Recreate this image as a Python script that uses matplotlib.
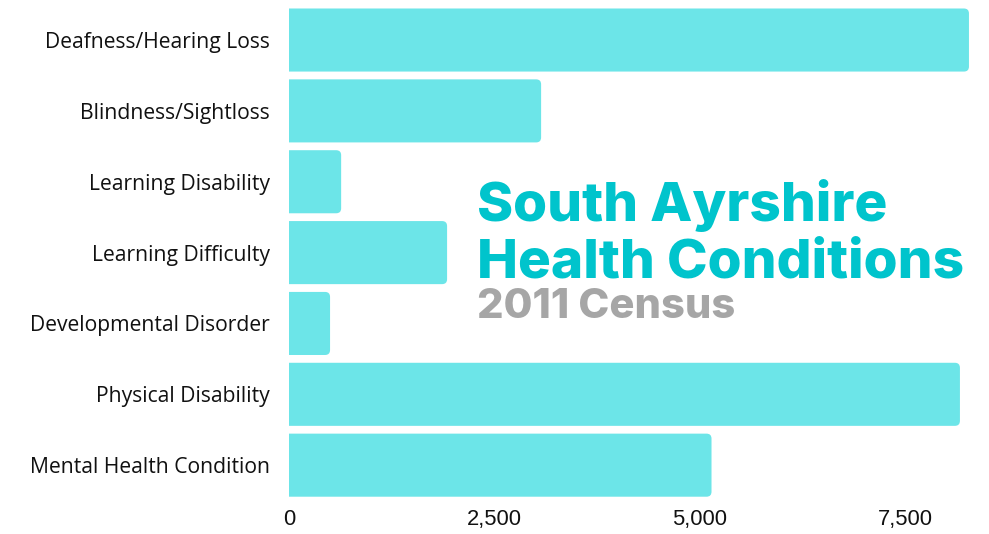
import matplotlib
matplotlib.use("Agg")
import matplotlib.pyplot as plt
from matplotlib.patches import FancyBboxPatch

categories = ["Deafness/Hearing Loss", "Blindness/Sightloss", "Learning Disability",
              "Learning Difficulty", "Developmental Disorder", "Physical Disability",
              "Mental Health Condition"]
values = [8280, 3070, 635, 1925, 500, 8170, 5145]
xticks = [0, 2500, 5000, 7500]
xtick_labels = ["0", "2,500", "5,000", "7,500"]

BAR = "#6ce5e8"
TEAL = "#00c4cc"
GREY = "#a6a6a6"

W, H = 989, 534
fig = plt.figure(figsize=(W / 100, H / 100), dpi=100)
ax = fig.add_axes([289 / W, 33.4 / H, (970.6 - 289) / W, (529.4 - 33.4) / H])

ypos = list(range(len(categories)))
bars = ax.barh(ypos, values, height=0.89, color=BAR)
ax.set_xlim(0, 8300)
ax.set_ylim(len(categories) - 0.5, -0.5)

# swap square bars for ones with rounded ends
px_x = 8300 / (970.6 - 289)
px_y = 7 / (529.4 - 33.4)
for b in bars:
    b.set_visible(False)
    x0, y0 = b.get_x(), b.get_y()
    w, h = b.get_width(), b.get_height()
    r = 5 * px_x
    ax.add_patch(FancyBboxPatch((x0 - 200, y0 + 5 * px_y), w + 200 - r, h - 10 * px_y,
                                boxstyle=f"round,pad={r},rounding_size={r}",
                                mutation_aspect=px_y / px_x,
                                fc=BAR, ec="none"))

ax.set_yticks(ypos)
ax.set_yticklabels(categories, fontsize=15.2, family="Open Sans", color="#111111")
ax.set_xticks(xticks)
ax.set_xticklabels(xtick_labels, fontsize=15.8, family="Liberation Sans", color="#111111")
ax.tick_params(axis="y", length=0, pad=14)
ax.tick_params(axis="x", length=0, pad=6)
for s in ax.spines.values():
    s.set_visible(False)

fig.text(477 / W, 1 - 221 / H, "South Ayrshire", color=TEAL, fontsize=39.5,
         family="Inter", fontweight="heavy", va="baseline")
fig.text(477 / W, 1 - 277 / H, "Health Conditions", color=TEAL, fontsize=39.5,
         family="Inter", fontweight="heavy", va="baseline")
fig.text(477 / W, 1 - 318 / H, "2011 Census", color=GREY, fontsize=30,
         family="Inter", fontweight="heavy", va="baseline")

fig.savefig("out.png", dpi=100)
